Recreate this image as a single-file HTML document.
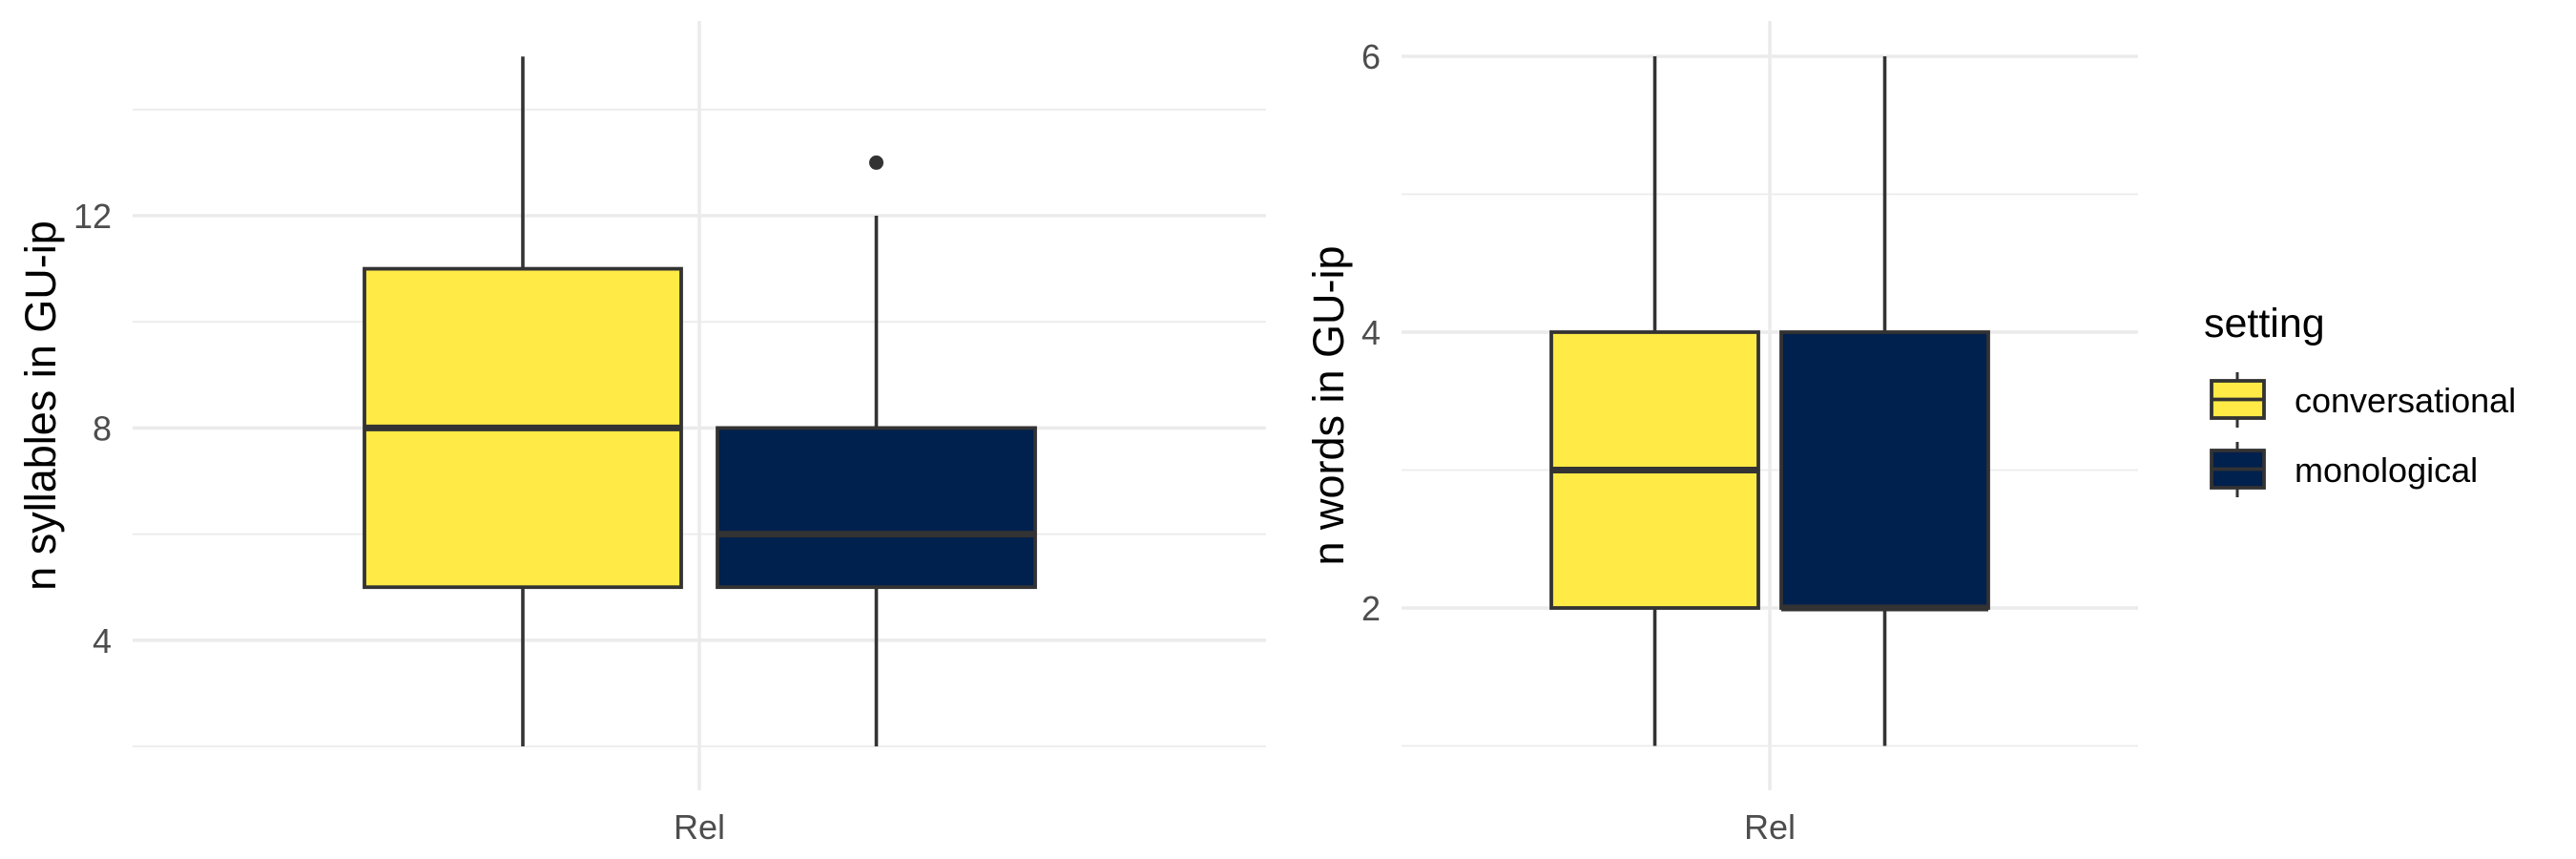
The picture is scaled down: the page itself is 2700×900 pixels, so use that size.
<!DOCTYPE html>
<html><head><meta charset="utf-8"><style>
html,body{margin:0;padding:0;background:#fff;}
svg{display:block;font-family:"Liberation Sans",Arial,sans-serif;}
</style></head><body>
<svg id="chart" width="2700" height="900" viewBox="0 0 2700 900" xmlns="http://www.w3.org/2000/svg"></svg>
<script>
const categories = ["Rel"];
const groups = ["conversational", "monological"];
const colors = ["#FFEA46", "#00204D"];
// [lower whisker, Q1, median, Q3, upper whisker]
const syllablesConv = [2, 5, 8, 11, 15];
const syllablesMono = [2, 5, 6, 8, 12];
const syllablesOutliers = [[], [13]];
const wordsConv = [1, 2, 3, 4, 6];
const wordsMono = [1, 2, 2, 4, 6];
const wordsOutliers = [[], []];
const syllTicks = [4, 8, 12];
const syllMinor = [2, 6, 10, 14];
const wordTicks = [2, 4, 6];
const wordMinor = [1, 3, 5];

const NS = "http://www.w3.org/2000/svg";
const svg = document.getElementById("chart");
function mk(tag, attrs, parent) {
  const e = document.createElementNS(NS, tag);
  for (const k in attrs) e.setAttribute(k, attrs[k]);
  (parent || svg).appendChild(e);
  return e;
}

function panel(cfg) {
  const g = mk("g", {});
  
  
  const y = v => cfg.y0 + (cfg.v0 - v) * cfg.k;
  const L = cfg.left, R = cfg.right, T = 22, B = 828;
  // x scale: category centered, boxes dodged at +-offset (in category units)
  const cx = (L + R) / 2;
  const xs = u => cx + u * (R - L) / 1.2;
  cfg.minor.forEach(v => {
    const l = mk("line", {x1: L, x2: R, y1: y(v), y2: y(v), stroke: "#ebebeb", "stroke-width": 1.8}, g);
    
    
  });
  cfg.ticks.forEach(v => {
    const l = mk("line", {x1: L, x2: R, y1: y(v), y2: y(v), stroke: "#ebebeb", "stroke-width": 3.6}, g);
    
    
    const t = mk("text", {x: L - 22, y: y(v) + 13, "text-anchor": "end", "font-size": 36, fill: "#4d4d4d"}, g);
    t.textContent = String(v);
    
    
  });
  const vg = mk("line", {x1: cx, x2: cx, y1: T, y2: B, stroke: "#ebebeb", "stroke-width": 3.6}, g);
  
  
  const xl = mk("text", {x: cx, y: 879, "text-anchor": "middle", "font-size": 36, fill: "#4d4d4d"}, g);
  xl.textContent = categories[0];
  
  
  const yt = mk("text", {x: 0, y: 0, transform: `translate(${cfg.titleX},425) rotate(-90)`, "text-anchor": "middle", "font-size": 45, fill: "#000"}, g);
  yt.textContent = cfg.title;
  
  
  cfg.series.forEach((s, i) => {
    const x0 = cfg.boxX[i][0], x1 = cfg.boxX[i][1], xm = (x0 + x1) / 2;
    const bg = mk("g", {}, g);
    
    
    mk("line", {x1: xm, x2: xm, y1: y(s[0]), y2: y(s[1]), stroke: "#333", "stroke-width": 3.6}, bg);
    mk("line", {x1: xm, x2: xm, y1: y(s[3]), y2: y(s[4]), stroke: "#333", "stroke-width": 3.6}, bg);
    mk("rect", {x: x0, y: y(s[3]), width: x1 - x0, height: y(s[1]) - y(s[3]), fill: colors[i], stroke: "#333", "stroke-width": 3.8}, bg);
    mk("line", {x1: x0, x2: x1, y1: y(s[2]), y2: y(s[2]), stroke: "#333", "stroke-width": 7}, bg);
    cfg.outliers[i].forEach(o => {
      const c = mk("circle", {cx: xm, cy: y(o), r: 7.5, fill: "#333"}, bg);
      
      
    });
  });
}

panel({name: "syllables-panel", left: 139, right: 1327, y0: 226, v0: 12, k: 55.6,
  ticks: syllTicks, minor: syllMinor, title: "n syllables in GU-ip", titleX: 58,
  boxX: [[382, 714], [752, 1085]], series: [syllablesConv, syllablesMono], outliers: syllablesOutliers});
panel({name: "words-panel", left: 1469, right: 2241, y0: 59, v0: 6, k: 144.5,
  ticks: wordTicks, minor: wordMinor, title: "n words in GU-ip", titleX: 1408,
  boxX: [[1626, 1843], [1867, 2084]], series: [wordsConv, wordsMono], outliers: wordsOutliers});

// legend
const lg = mk("g", {});


const lt = mk("text", {x: 2310, y: 353, "font-size": 43, fill: "#000"}, lg);
lt.textContent = "setting";


groups.forEach((gname, i) => {
  const top = 399 + i * 73;
  const e = mk("g", {}, lg);
  
  
  mk("line", {x1: 2345, x2: 2345, y1: top - 9, y2: top + 49, stroke: "#333", "stroke-width": 3}, e);
  mk("rect", {x: 2318, y: top, width: 55, height: 39, fill: colors[i], stroke: "#333", "stroke-width": 3.8}, e);
  mk("line", {x1: 2318, x2: 2373, y1: top + 19.5, y2: top + 19.5, stroke: "#333", "stroke-width": 3.8}, e);
  const t = mk("text", {x: 2405, y: top + 33, "font-size": 36, fill: "#000"}, e);
  t.textContent = gname;
  
  
});
</script>
</body></html>
